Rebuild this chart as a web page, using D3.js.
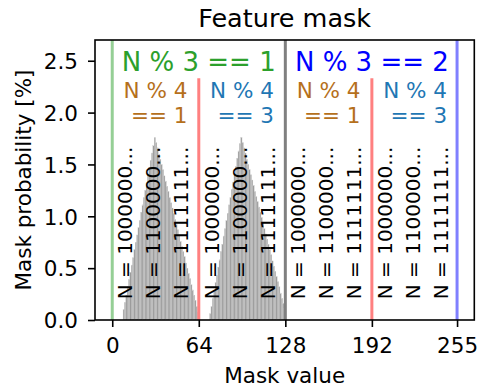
<!DOCTYPE html>
<html>
<head>
<meta charset="utf-8">
<script src="https://cdn.jsdelivr.net/npm/d3@7"></script>
<style>
  body { margin: 0; background: #fff; }
  svg { display: block; }
  text { font-family: "DejaVu Sans", sans-serif; }
</style>
</head>
<body>
<svg id="chart" width="477" height="389"></svg>
<script>
// Mask probability (%) per mask value; only two blocks of values occur.
const lowBlockStart = 8;   // first mask value of the lower block
const lowBlockProb = [
  0.10, 0.17, 0.24, 0.32, 0.39, 0.46, 0.53, 0.60, 0.68, 0.75, 0.82, 0.89,
  0.96, 1.04, 1.11, 1.18, 1.25, 1.32, 1.40, 1.47, 1.54, 1.61, 1.68, 1.76,
  1.71, 1.66, 1.60, 1.55, 1.50, 1.45, 1.39, 1.34, 1.29, 1.24, 1.18, 1.13,
  1.08, 1.03, 0.97, 0.92, 0.87, 0.82, 0.76, 0.71, 0.66, 0.61, 0.55, 0.50,
  0.45, 0.40, 0.34, 0.29, 0.24, 0.19, 0.13, 0.08
];
const highBlockStart = 72; // first mask value of the upper block
const highBlockProb = [
  0.06, 0.13, 0.21, 0.28, 0.36, 0.43, 0.51, 0.58, 0.66, 0.73, 0.81, 0.88,
  0.96, 1.03, 1.11, 1.18, 1.26, 1.33, 1.41, 1.48, 1.56, 1.63, 1.70, 1.76,
  1.71, 1.66, 1.61, 1.55, 1.50, 1.45, 1.40, 1.35, 1.30, 1.24, 1.19, 1.14,
  1.09, 1.04, 0.99, 0.94, 0.88, 0.83, 0.78, 0.73, 0.68, 0.63, 0.57, 0.52,
  0.47, 0.42, 0.37, 0.32, 0.26, 0.21, 0.16, 0.11
];

const xTicks = [0, 64, 128, 192, 255];
const yTicks = [0, 0.5, 1.0, 1.5, 2.0, 2.5];

// Region annotations
const mod3Text = ["N % 3 == 1", "N % 3 == 2"];
const mod3Centers = [64, 192];
const mod4Text = [["N % 4", "== 1"], ["N % 4", "== 3"], ["N % 4", "== 1"], ["N % 4", "== 3"]];
const mod4Centers = [32, 96, 160, 224];
const prefixText = ["N = 1000000...", "N = 1100000...", "N = 1111111..."];
const quarterStarts = [0, 64, 128, 192];

// Divider lines
const fullDividers = [0, 128, 255];
const shortDividers = [64, 192];

// ---- styling ----
const mod3Colors = ["#2ca02c", "#0000ff"];
const mod4Colors = ["#b5701c", "#1f77b4", "#b5701c", "#1f77b4"];
const fullDividerColors = ["#95cf95", "#808080", "#8080ff"];
const shortDividerColor = "#ff8080";
const prefixOffsets = [9.6, 30.3, 50.9];

const plot = { left: 95, right: 474.3, top: 40, bottom: 320 };
const x = d3.scaleLinear().domain([-12.75, 267.75]).range([plot.left, plot.right]);
const y = d3.scaleLinear().domain([0, 2.7]).range([plot.bottom, plot.top]);

const svg = d3.select("#chart");

svg.append("defs").append("clipPath").attr("id", "plotClip")
  .append("rect")
  .attr("x", plot.left).attr("y", plot.top)
  .attr("width", plot.right - plot.left).attr("height", plot.bottom - plot.top);

const inner = svg.append("g").attr("clip-path", "url(#plotClip)");

// histogram bars
const bars = lowBlockProb.map((p, i) => ({ v: lowBlockStart + i, p }))
  .concat(highBlockProb.map((p, i) => ({ v: highBlockStart + i, p })));

inner.append("g").selectAll("rect").data(bars).join("rect")
  .attr("x", d => x(d.v))
  .attr("width", d => x(d.v + 1) - x(d.v))
  .attr("y", d => y(d.p))
  .attr("height", d => y(0) - y(d.p))
  .attr("fill", "#9c9c9c")
  .attr("stroke", "#d2d2d2")
  .attr("stroke-width", 0.35);

// divider lines
inner.append("g").selectAll("line").data(fullDividers).join("line")
  .attr("x1", d => x(d)).attr("x2", d => x(d))
  .attr("y1", y(0)).attr("y2", plot.top)
  .attr("stroke", (d, i) => fullDividerColors[i])
  .attr("stroke-width", 3);

inner.append("g").selectAll("line").data(shortDividers).join("line")
  .attr("x1", d => x(d)).attr("x2", d => x(d))
  .attr("y1", y(0)).attr("y2", y(2.33))
  .attr("stroke", shortDividerColor)
  .attr("stroke-width", 3);

// mod-3 headings
svg.append("g").selectAll("text").data(mod3Text).join("text")
  .attr("x", (d, i) => x(mod3Centers[i]))
  .attr("y", 71)
  .attr("text-anchor", "middle")
  .attr("font-size", 26)
  .attr("fill", (d, i) => mod3Colors[i])
  .text(d => d);

// mod-4 two-line labels, lines right-aligned inside a centred block
mod4Text.forEach((lines, i) => {
  const g = svg.append("g");
  const texts = lines.map((t, j) => g.append("text")
    .attr("y", 98.3 + j * 24.4)
    .attr("font-size", 21.5)
    .attr("fill", mod4Colors[i])
    .attr("text-anchor", "end")
    .text(t));
  const wMax = d3.max(texts, t => t.node().getComputedTextLength());
  texts.forEach(t => t.attr("x", x(mod4Centers[i]) + wMax / 2));
});

// rotated prefix labels
quarterStarts.forEach(q => {
  prefixText.forEach((t, k) => {
    const px = x(q + prefixOffsets[k]);
    const py = y(0.2);
    svg.append("text")
      .attr("transform", `translate(${px},${py}) rotate(-90)`)
      .attr("text-anchor", "start")
      .attr("dominant-baseline", "central")
      .attr("font-size", 20)
      .attr("fill", "#000")
      .text(t);
  });
});

// axes
const xAxis = svg.append("g")
  .attr("transform", `translate(0,${plot.bottom})`)
  .call(d3.axisBottom(x).tickValues(xTicks).tickSize(7).tickFormat(d3.format("d")));
xAxis.select(".domain").remove();
xAxis.selectAll(".tick line").attr("stroke", "#000").attr("stroke-width", 1.6);
xAxis.selectAll(".tick text")
  .attr("y", 32.7).attr("dy", null)
  .attr("font-size", 21.5).attr("font-family", "DejaVu Sans").attr("fill", "#000");

const yAxis = svg.append("g")
  .attr("transform", `translate(${plot.left},0)`)
  .call(d3.axisLeft(y).tickValues(yTicks).tickSize(7).tickFormat(d3.format(".1f")));
yAxis.select(".domain").remove();
yAxis.selectAll(".tick line").attr("stroke", "#000").attr("stroke-width", 1.6);
yAxis.selectAll(".tick text")
  .attr("x", -17).attr("dy", "0.36em")
  .attr("font-size", 21.5).attr("font-family", "DejaVu Sans").attr("fill", "#000");

// frame
svg.append("rect")
  .attr("x", plot.left).attr("y", plot.top)
  .attr("width", plot.right - plot.left).attr("height", plot.bottom - plot.top)
  .attr("fill", "none").attr("stroke", "#000").attr("stroke-width", 1.6);

// titles
svg.append("text")
  .attr("x", (plot.left + plot.right) / 2).attr("y", 27)
  .attr("text-anchor", "middle").attr("font-size", 25.5)
  .text("Feature mask");

svg.append("text")
  .attr("x", (plot.left + plot.right) / 2).attr("y", 383)
  .attr("text-anchor", "middle").attr("font-size", 21.5)
  .text("Mask value");

svg.append("text")
  .attr("transform", `translate(31,${(plot.top + plot.bottom) / 2}) rotate(-90)`)
  .attr("text-anchor", "middle").attr("font-size", 21.5)
  .text("Mask probability [%]");
</script>
</body>
</html>
